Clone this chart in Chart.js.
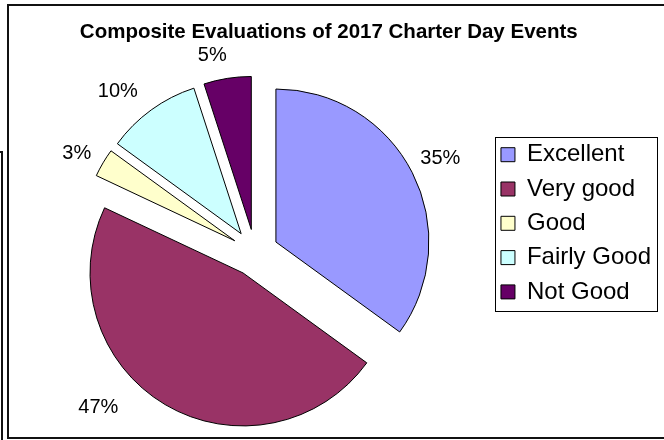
<!DOCTYPE html>
<html>
<head>
<meta charset="utf-8">
<script src="https://cdn.jsdelivr.net/npm/chart.js@4.4.1/dist/chart.umd.min.js"></script>
<style>
  html, body { margin: 0; padding: 0; background: #fff; overflow: hidden; }
  canvas { display: block; }
</style>
</head>
<body>
<canvas id="pie" width="664" height="440"></canvas>
<script>
// data
const categories = ["Excellent", "Very good", "Good", "Fairly Good", "Not Good"];
const shares = [35, 47, 3, 10, 5];
const pctLabels = ["35%", "47%", "3%", "10%", "5%"];
const fills = ["#9999FF", "#993366", "#FFFFCC", "#CCFFFF", "#660066"];

const FONT = '"Liberation Sans", Arial, sans-serif';
const PUSH = 23.5;   // how far every slice is pulled out
const RADIUS = 153;
// where each % label sits: [angle nudge in deg, distance from pie centre]
const labelPlace = [[0, 208], [14.8, 220], [-1.5, 204], [-4.3, 212], [-3.2, 202]];

// pull every slice out along its middle angle (all slices exploded, Excel style)
const explode = {
  id: "explode",
  afterDatasetUpdate(chart, args) {
    chart.getDatasetMeta(args.index).data.forEach((arc) => {
      const mid = (arc.startAngle + arc.endAngle) / 2;
      arc.cx0 = arc.x; arc.cy0 = arc.y;
      arc.x += Math.cos(mid) * PUSH;
      arc.y += Math.sin(mid) * PUSH;
    });
  },
};

const pctText = {
  id: "pctText",
  afterDatasetsDraw(chart) {
    const { ctx } = chart;
    ctx.save();
    ctx.font = "20px " + FONT;
    ctx.fillStyle = "#000";
    ctx.textAlign = "center";
    ctx.textBaseline = "middle";
    chart.getDatasetMeta(0).data.forEach((arc, i) => {
      const [nudge, dist] = labelPlace[i];
      const a = (arc.startAngle + arc.endAngle) / 2 + nudge * Math.PI / 180;
      ctx.fillText(pctLabels[i], arc.cx0 + Math.cos(a) * dist, arc.cy0 + Math.sin(a) * dist);
    });
    ctx.restore();
  },
};

// outer frame + the box round the legend
const frame = {
  id: "frame",
  beforeDraw(chart) {
    const { ctx, width, height } = chart;
    ctx.save();
    ctx.fillStyle = "#fff";
    ctx.fillRect(0, 0, width, height);
    ctx.strokeStyle = "#111";
    ctx.lineWidth = 2;
    ctx.beginPath();
    ctx.moveTo(width, 5); ctx.lineTo(8, 5); ctx.lineTo(8, 438); ctx.lineTo(width, 438);
    ctx.moveTo(0, 152); ctx.lineTo(2, 152); ctx.lineTo(2, height);
    ctx.stroke();
    ctx.restore();
  },
  afterDraw(chart) {
    const boxes = chart.legend.legendHitBoxes;
    if (!boxes || !boxes.length) return;
    const left = Math.min(...boxes.map((b) => b.left));
    const right = Math.max(...boxes.map((b) => b.left + b.width));
    const top = Math.min(...boxes.map((b) => b.top));
    const bottom = Math.max(...boxes.map((b) => b.top + b.height));
    const { ctx } = chart;
    ctx.save();
    ctx.strokeStyle = "#000";
    ctx.lineWidth = 1;
    ctx.strokeRect(Math.round(left - 6) + 0.5, Math.round(top - 6) + 0.5,
      Math.round(right - left + 12), Math.round(bottom - top + 13));
    ctx.restore();
  },
};

new Chart(document.getElementById("pie"), {
  type: "pie",
  data: {
    labels: categories,
    datasets: [{
      data: shares,
      backgroundColor: fills,
      borderColor: "#000",
      borderWidth: 1,
      borderJoinStyle: "miter",
      radius: RADIUS,
    }],
  },
  options: {
    responsive: false,
    animation: false,
    events: [],
    layout: { padding: { top: 4, left: 19.3, right: 3, bottom: 0 } },
    plugins: {
      title: {
        display: true,
        text: "Composite Evaluations of 2017 Charter Day Events    ",
        color: "#000",
        font: { family: FONT, size: 20.5, weight: "bold" },
        padding: { top: 16.2, bottom: 20.6 },
      },
      legend: {
        position: "right",
        align: "start",
        // blank legend title only used as a spacer to drop the items down
        title: { display: true, text: " ", font: { size: 10, lineHeight: "128.4px" }, padding: 0 },
        labels: {
          color: "#000",
          font: { family: FONT, size: 24 },
          boxWidth: 14,
          boxHeight: 14,
          padding: 10.3,
        },
      },
      tooltip: { enabled: false },
    },
  },
  plugins: [frame, explode, pctText],
});
</script>
</body>
</html>
